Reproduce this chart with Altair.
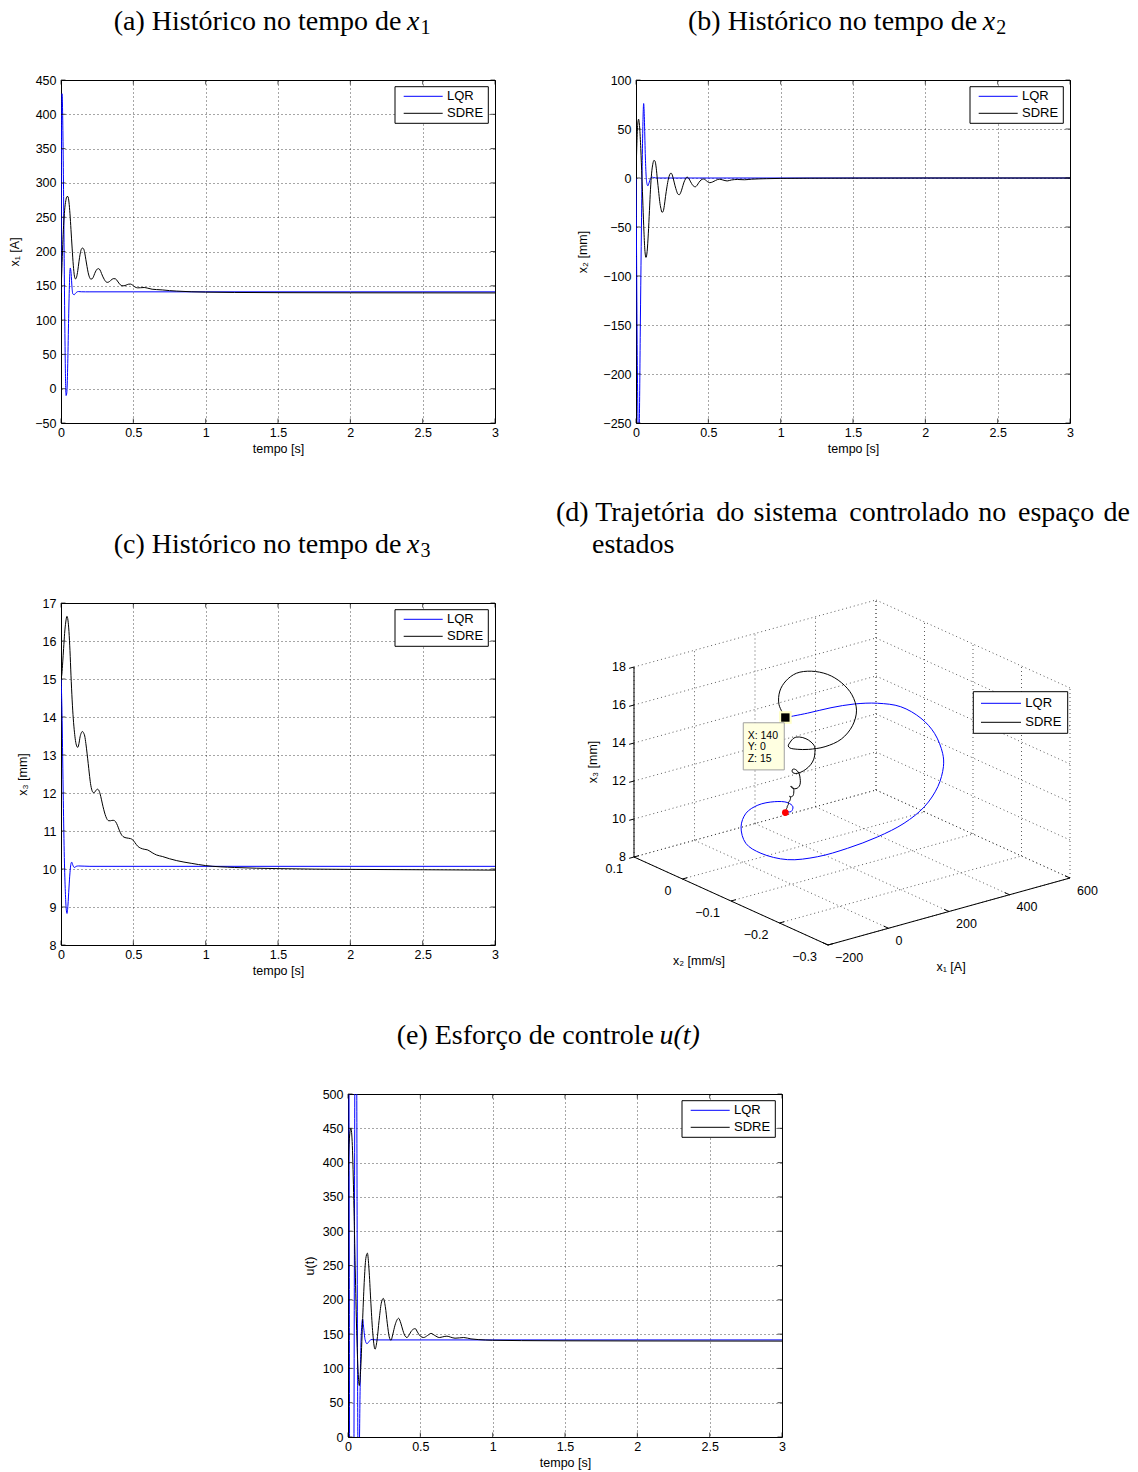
import altair as alt
import pandas as pd

SANS = "Liberation Sans"
SERIF = "Liberation Serif"
BLUE = "#0000ff"
BLACK = "#000000"

# ---------------- data ----------------
time_ticks = [0, 0.5, 1, 1.5, 2, 2.5, 3]
x1_ticks = list(range(-50, 451, 50))
x2_ticks = list(range(-250, 101, 50))
x3_ticks = list(range(8, 18))
u_ticks = list(range(0, 501, 50))

# LQR
lqr_x1_t = [0, 0.002, 0.004, 0.007, 0.010, 0.014, 0.018, 0.022, 0.026, 0.030,
            0.035, 0.040, 0.046, 0.052, 0.058, 0.064, 0.070, 0.076, 0.082, 0.092,
            0.100, 0.110, 0.120, 0.140, 0.170, 0.200, 0.500, 1.0, 2.0, 3.0]
lqr_x1 = [140, 280, 390, 430, 415, 360, 280, 190, 100, 30,
          -10, -6, 30, 95, 150, 176, 168, 148, 138, 137,
          139, 141, 141.6, 141.3, 141.2, 141.2, 141.2, 141.2, 141.2, 141.2]

lqr_x2_t = [0, 0.004, 0.008, 0.013, 0.018, 0.023, 0.030, 0.036, 0.042, 0.047,
            0.053, 0.058, 0.064, 0.070, 0.076, 0.082, 0.090, 0.100, 0.108, 0.120,
            0.150, 3.0]
lqr_x2 = [0, -80, -170, -240, -285, -250, -150, -70, 5, 50,
          76, 60, 25, 2, -6, -8, -5, -0.5, 1, 0.5,
          0, 0]

lqr_x3_t = [0, 0.004, 0.008, 0.0115, 0.016, 0.023, 0.030, 0.036, 0.0415, 0.048,
            0.055, 0.062, 0.068, 0.074, 0.082, 0.092, 0.105, 0.120, 0.200, 3.0]
lqr_x3 = [15, 14.6, 13.9, 12.95, 11.8, 10.3, 9.4, 8.95, 8.83, 9.05,
          9.5, 9.9, 10.12, 10.18, 10.1, 10.04, 10.07, 10.08, 10.07, 10.07]

lqr_u_t = [0, 0.005, 0.009, 0.013, 0.025, 0.038, 0.044, 0.050, 0.056, 0.062,
           0.066, 0.071, 0.077, 0.083, 0.090, 0.101, 0.108, 0.118, 0.131, 0.145,
           0.159, 0.200, 3.0]
lqr_u = [1400, 800, 250, -300, -800, -300, 250, 700, 800, 400,
         100, -60, -40, 60, 140, 172, 160, 142, 136, 139,
         142, 141.5, 141.5]

# SDRE (common time grid for x1, x2, x3)
sdre_t = [0, 0.006, 0.012, 0.018, 0.025, 0.033, 0.041, 0.048, 0.055, 0.062,
          0.069, 0.077, 0.085, 0.093, 0.100, 0.108, 0.116, 0.124, 0.132, 0.140,
          0.148, 0.156, 0.164, 0.172, 0.180, 0.188, 0.196, 0.204, 0.214, 0.224,
          0.233, 0.242, 0.251, 0.260, 0.270, 0.280, 0.290, 0.300, 0.310, 0.320,
          0.330, 0.342, 0.353, 0.365, 0.378, 0.390, 0.400, 0.410, 0.422, 0.435,
          0.450, 0.466, 0.480, 0.495, 0.510, 0.530, 0.550, 0.575, 0.600, 0.630,
          0.660, 0.700, 0.750, 0.800, 0.900, 1.000, 1.200, 1.500, 2.000, 2.500, 3.000]
sdre_x1 = [140, 175, 210, 238, 260, 274, 280, 280, 272, 255,
           232, 205, 180, 164, 160, 163, 172, 185, 196, 203,
           205, 204, 198, 188, 178, 169, 163, 160, 160, 163,
           168, 172, 174.5, 175, 173, 168, 163, 159, 156, 155,
           155.5, 157.5, 159.5, 160.5, 160, 157, 154, 151.5, 150.2, 150,
           151, 152.3, 152.5, 151, 148.5, 147, 147.2, 147.5, 146.5, 145,
           144.5, 144, 143, 142.3, 141.3, 140.8, 140.3, 140, 139.8, 139.7, 139.6]
sdre_x2 = [0, 35, 55, 60, 52, 30, 0, -28, -55, -75,
           -81, -75, -57, -33, -12, 5, 14, 18, 17, 10,
           -2, -13, -24, -31, -35, -34, -28, -19, -9, -1,
           3.5, 5, 3, -2, -8, -13, -16.5, -17, -14.5, -10,
           -5, -1, 1, -0.5, -4, -7, -8.5, -9, -7.5, -4.5,
           -2, -1, -2, -3.8, -4.8, -4, -2.5, -1.2, -2, -3,
           -2, -1.5, -1.8, -1.2, -0.7, -0.4, -0.2, -0.1, 0, 0, 0]
sdre_x3 = [15, 15.13, 15.45, 15.8, 16.2, 16.5, 16.65, 16.55, 16.25, 15.75,
           15.1, 14.45, 13.95, 13.6, 13.38, 13.24, 13.2, 13.3, 13.48, 13.58,
           13.62, 13.58, 13.5, 13.3, 13.05, 12.78, 12.5, 12.25, 12.07, 12.01,
           12.02, 12.07, 12.1, 12.08, 11.98, 11.82, 11.65, 11.5, 11.38, 11.3,
           11.27, 11.27, 11.28, 11.28, 11.24, 11.15, 11.05, 10.96, 10.88, 10.84,
           10.82, 10.81, 10.8, 10.77, 10.7, 10.6, 10.55, 10.52, 10.5, 10.43,
           10.37, 10.33, 10.27, 10.22, 10.15, 10.09, 10.04, 10.01, 9.99, 9.98, 9.97]

sdre_u_t = [0, 0.008, 0.020, 0.030, 0.040, 0.050, 0.060, 0.070, 0.078, 0.088,
            0.100, 0.112, 0.123, 0.134, 0.145, 0.157, 0.170, 0.187, 0.200, 0.215,
            0.230, 0.244, 0.258, 0.272, 0.285, 0.297, 0.310, 0.325, 0.350, 0.365,
            0.380, 0.395, 0.408, 0.420, 0.440, 0.465, 0.480, 0.500, 0.523, 0.550,
            0.574, 0.600, 0.631, 0.655, 0.684, 0.710, 0.740, 0.770, 0.800, 0.850,
            0.900, 1.000, 1.200, 1.500, 2.000, 3.000]
sdre_u = [380, 430, 450, 425, 345, 245, 155, 95, 75, 100,
          165, 225, 260, 268, 245, 200, 155, 128, 140, 170,
          195, 202, 190, 165, 146, 141, 150, 163, 173, 166,
          155, 147, 145, 148, 155, 158, 153, 147, 145, 148,
          151, 148, 145, 146, 147, 145.5, 144, 144.5, 145, 143,
          142, 141, 140.5, 140.2, 140, 139.8]

# LQR trajectory in the state space (x1 [A], x2, x3 [mm])
lqr3d_x1 = [140, 205, 278, 347, 398, 430, 428, 420, 405, 390,
            370, 340, 300, 250, 190, 110, 30, 0, -10, 0,
            50, 110, 150, 175, 165, 145, 140]
lqr3d_x2 = [0, -0.005, -0.008, -0.013, -0.029, -0.057, -0.1, -0.133, -0.159, -0.17,
            -0.171, -0.162, -0.145, -0.122, -0.097, -0.085, -0.073, -0.037, -0.012, 0.004,
            0.025, 0.038, 0.029, 0.017, 0, -0.0085, 0]
lqr3d_x3 = [15, 15, 15, 14.95, 14.95, 14.95, 14.85, 14.47, 13.79, 13.28,
            12.33, 11.3, 10.41, 9.65, 9.02, 8.79, 8.85, 8.9, 9.18, 9.82,
            10.07, 10.08, 10.19, 10.17, 10.19, 10.12, 10.07]
initial_state = [140, 0, 15]
equilibrium = [140, 0, 10]

x1_ticks3 = [-200, 0, 200, 400, 600]
x2_ticks3 = [-0.3, -0.2, -0.1, 0, 0.1]
x3_ticks3 = [8, 10, 12, 14, 16, 18]

# ---------------- helpers ----------------
one = pd.DataFrame({"k": [0]})


def vtext(text, x, y, size=28, align="left", style="normal", font=SERIF):
    return alt.Chart(one).mark_text(
        text=text, font=font, fontSize=size, align=align, baseline="alphabetic",
        fontStyle=style, color="black"
    ).encode(x=alt.value(x), y=alt.value(y))


def anchor(x, y0, y1):
    # invisible thin strip that fixes the layout bounds of a row
    return alt.Chart(one).mark_rect(opacity=0).encode(
        x=alt.value(x), x2=alt.value(x + 1), y=alt.value(y0), y2=alt.value(y1))


def legend(x0, y0, w, h, rows_y, lx0, lx1, tx):
    layers = [alt.Chart(one).mark_rect(fill="white", stroke="black", strokeWidth=1).encode(
        x=alt.value(x0), x2=alt.value(x0 + w), y=alt.value(y0), y2=alt.value(y0 + h))]
    for name, col, ry in zip(["LQR", "SDRE"], [BLUE, BLACK], rows_y):
        layers.append(alt.Chart(one).mark_rule(color=col, strokeWidth=1).encode(
            x=alt.value(lx0), x2=alt.value(lx1), y=alt.value(ry)))
        layers.append(alt.Chart(one).mark_text(
            text=name, font=SANS, fontSize=13, align="left", baseline="middle", color="black"
        ).encode(x=alt.value(tx), y=alt.value(ry)))
    return layers


TICK = 4.5


def time_panel(lt, lv, st, sv, ydom, yticks, ytitle, tpad, titles, h=343, extra=None):
    xs = alt.Scale(domain=[0, 3], nice=False, zero=False)
    ys = alt.Scale(domain=ydom, nice=False, zero=False)
    xenc = alt.X("t:Q", scale=xs,
                 axis=alt.Axis(values=time_ticks, format="~g", title="tempo [s]",
                               labelPadding=3, titlePadding=4))
    yenc = alt.Y("v:Q", scale=ys,
                 axis=alt.Axis(values=yticks, title=ytitle, titlePadding=tpad, labelPadding=5))
    l1 = alt.Chart(pd.DataFrame({"t": lt, "v": lv})).mark_line(
        color=BLUE, strokeWidth=1, interpolate="monotone", clip=True).encode(x=xenc, y=yenc)
    l2 = alt.Chart(pd.DataFrame({"t": st, "v": sv})).mark_line(
        color=BLACK, strokeWidth=1, interpolate="monotone", clip=True).encode(x=xenc, y=yenc)
    # inward tick marks on all four sides (box style)
    xt = pd.DataFrame({"t": time_ticks})
    yt = pd.DataFrame({"v": yticks})
    tk = []
    for yv, off in [(ydom[0], -TICK / 2), (ydom[1], TICK / 2)]:
        tk.append(alt.Chart(xt).transform_calculate(v=str(yv)).mark_tick(
            orient="vertical", size=TICK, thickness=1, color="black", yOffset=off
        ).encode(x=xenc, y=yenc))
    for xv, off in [(0, TICK / 2), (3, -TICK / 2)]:
        tk.append(alt.Chart(yt).transform_calculate(t=str(xv)).mark_tick(
            orient="horizontal", size=TICK, thickness=1, color="black", xOffset=off
        ).encode(x=xenc, y=yenc))
    layers = [l1, l2] + tk + legend(334, 6.7, 93.3, 36.6, [16.3, 33.3], 342.7, 381.7, 386) + titles
    if extra:
        layers += extra
    return alt.layer(*layers).properties(width=434, height=h,
                                         view={"stroke": "black", "strokeWidth": 1})


# ---------------- panels a, b, c, e ----------------
pa = time_panel(lqr_x1_t, lqr_x1, sdre_t, sdre_x1, [-50, 450], x1_ticks, "x₁ [A]", 13,
                [vtext("(a) Histórico no tempo de", 340.5, -49.7, align="right"),
                 vtext("x", 346, -49.7, style="italic"),
                 vtext("1", 359.5, -46.5, size=20)],
                extra=[anchor(-60, -79, 403)])
pb = time_panel(lqr_x2_t, lqr_x2, sdre_t, sdre_x2, [-250, 100], x2_ticks, "x₂ [mm]", 13,
                [vtext("(b) Histórico no tempo de", 341.3, -49.7, align="right"),
                 vtext("x", 346.8, -49.7, style="italic"),
                 vtext("2", 360.3, -46.5, size=20)])
pc = time_panel(lqr_x3_t, lqr_x3, sdre_t, sdre_x3, [8, 17], x3_ticks, "x₃ [mm]", 13,
                [vtext("(c) Histórico no tempo de", 340.5, -49.7, align="right"),
                 vtext("x", 346, -49.7, style="italic"),
                 vtext("3", 359.5, -46.5, size=20)], h=342,
                extra=[anchor(-60, -118, 400)])
pe = time_panel(lqr_u_t, lqr_u, sdre_u_t, sdre_u, [0, 500], u_ticks, "u(t)", 6,
                [vtext("(e) Esforço de controle", 306, -49.7, align="right"),
                 vtext("u(t)", 311.5, -49.7, style="italic")])

# ---------------- panel d (3-D view, orthographic projection) ----------------
DW, DH = 560, 342
O = (267, 342)          # screen position of (x1min, x2min, x3min)
E1 = (242, -67)         # screen direction of the x1 axis (full range)
E2 = (-194, -88)        # screen direction of the x2 axis (full range)
E3 = (0, -190)          # screen direction of the x3 axis (full range)
L1, H1 = x1_ticks3[0], x1_ticks3[-1]
L2, H2 = x2_ticks3[0], x2_ticks3[-1]
L3, H3 = x3_ticks3[0], x3_ticks3[-1]


def proj(f1, f2, f3):
    n1 = f"((datum.{f1}-({L1}))/({H1}-({L1})))"
    n2 = f"((datum.{f2}-({L2}))/({H2}-({L2})))"
    n3 = f"((datum.{f3}-({L3}))/({H3}-({L3})))"
    ex = f"{O[0]}+({E1[0]})*{n1}+({E2[0]})*{n2}+({E3[0]})*{n3}"
    ey = f"{O[1]}+({E1[1]})*{n1}+({E2[1]})*{n2}+({E3[1]})*{n3}"
    return ex, ey


XS = alt.Scale(domain=[0, DW], nice=False, zero=False)
YS = alt.Scale(domain=[0, DH], nice=False, zero=False, reverse=True)
PX = alt.X("px:Q", scale=XS, axis=None)
PY = alt.Y("py:Q", scale=YS, axis=None)


def seg_chart(rows, **mk):
    df = pd.DataFrame(rows, columns=["a1", "a2", "a3", "b1", "b2", "b3"])
    ax, ay = proj("a1", "a2", "a3")
    bx, by = proj("b1", "b2", "b3")
    return alt.Chart(df).transform_calculate(px=ax, py=ay, qx=bx, qy=by).mark_rule(**mk).encode(
        x=PX, y=PY, x2="qx:Q", y2="qy:Q")


grid_rows = []
for v in x1_ticks3:
    grid_rows.append([v, L2, L3, v, H2, L3])
    grid_rows.append([v, H2, L3, v, H2, H3])
for v in x2_ticks3:
    grid_rows.append([L1, v, L3, H1, v, L3])
    grid_rows.append([H1, v, L3, H1, v, H3])
for v in x3_ticks3:
    grid_rows.append([L1, H2, v, H1, H2, v])
    grid_rows.append([H1, L2, v, H1, H2, v])
axis_rows = [[L1, L2, L3, H1, L2, L3], [L1, L2, L3, L1, H2, L3], [L1, H2, L3, L1, H2, H3]]
tick_rows = ([[v, L2, L3, v, L2 + 0.01, L3] for v in x1_ticks3] +
             [[L1, v, L3, L1 + 16, v, L3] for v in x2_ticks3] +
             [[L1, H2, v, L1 - 16, H2, v] for v in x3_ticks3])

grid3 = seg_chart(grid_rows, color="#333333", strokeDash=[1, 3], strokeWidth=1, opacity=0.8)
axes3 = seg_chart(axis_rows, color="black", strokeWidth=1)
ticks3 = seg_chart(tick_rows, color="black", strokeWidth=1)


def label_chart(rows, **mk):
    df = pd.DataFrame(rows, columns=["a1", "a2", "a3", "lab"])
    ax, ay = proj("a1", "a2", "a3")
    return alt.Chart(df).transform_calculate(px=ax, py=ay).mark_text(
        font=SANS, fontSize=12.5, baseline="middle", color="black", **mk).encode(
        x=PX, y=PY, text=alt.Text("lab:Q", format="~g"))


lab1 = label_chart([[v, L2, L3, v] for v in x1_ticks3], align="left", dx=7, dy=12.5)
lab2 = label_chart([[L1, v, L3, v] for v in x2_ticks3], align="right", dx=-11, dy=11.5)
lab3 = label_chart([[L1, H2, v, v] for v in x3_ticks3], align="right", dx=-8, dy=0)


def title3(text, p, **mk):
    df = pd.DataFrame([p], columns=["a1", "a2", "a3"])
    ax, ay = proj("a1", "a2", "a3")
    return alt.Chart(df).transform_calculate(px=ax, py=ay).mark_text(
        text=text, font=SANS, fontSize=12.5, baseline="middle", align="center",
        color="black", **mk).encode(x=PX, y=PY)


t1 = title3("x₁ [A]", [(L1 + H1) / 2, L2, L3], dx=2, dy=55)
t2 = title3("x₂ [mm/s]", [L1, (L2 + H2) / 2, L3], dx=-32, dy=60)
t3 = title3("x₃ [mm]", [L1, H2, (L3 + H3) / 2], angle=270, xOffset=-41)

lqr_df = pd.DataFrame({"i": range(len(lqr3d_x1)), "x1": lqr3d_x1, "x2": lqr3d_x2, "x3": lqr3d_x3})
cx, cy = proj("x1", "x2", "x3")
lqr3 = alt.Chart(lqr_df).transform_calculate(px=cx, py=cy).mark_line(
    color=BLUE, strokeWidth=1, interpolate="catmull-rom").encode(x=PX, y=PY, order="i:Q")

sdre_df = pd.DataFrame({"t": sdre_t, "x1": sdre_x1, "x2v": sdre_x2, "x3": sdre_x3})
sdre3 = alt.Chart(sdre_df).transform_calculate(x2="datum.x2v/1000").transform_calculate(
    px=cx, py=cy).mark_line(color=BLACK, strokeWidth=1, interpolate="catmull-rom").encode(
    x=PX, y=PY, order="t:Q")

pt_init = pd.DataFrame([initial_state], columns=["x1", "x2", "x3"])
pt_eq = pd.DataFrame([equilibrium], columns=["x1", "x2", "x3"])
red = alt.Chart(pt_eq).transform_calculate(px=cx, py=cy).mark_point(
    filled=True, color="red", size=45, opacity=1).encode(x=PX, y=PY)
halo = alt.Chart(pt_init).transform_calculate(px=cx, py=cy).mark_square(
    color="#ffffc8", size=160, opacity=1).encode(x=PX, y=PY)
sq = alt.Chart(pt_init).transform_calculate(px=cx, py=cy).mark_square(
    color="black", size=70, opacity=1).encode(x=PX, y=PY)
tipbox = alt.Chart(pt_init).transform_calculate(px=cx, py=cy).mark_point(
    shape="M-1,-1.15H1V1.15H-1Z", size=1681, filled=True, fill="#ffffe1",
    stroke="#a0a0a0", strokeWidth=1, opacity=1, fillOpacity=1,
    xOffset=-21.6, yOffset=28.8).encode(x=PX, y=PY)
tiptext = alt.Chart(pt_init).transform_calculate(
    px=cx, py=cy, l1="'X: ' + datum.x1", l2="'Y: ' + datum.x2", l3="'Z: ' + datum.x3")
tips = [tiptext.mark_text(font=SANS, fontSize=10.5, align="left", baseline="middle",
                          color="black", dx=-37.7, dy=dy).encode(x=PX, y=PY, text=f"{f}:N")
        for f, dy in [("l1", 18), ("l2", 29.5), ("l3", 41.5)]]

d_words = ["Trajetória", "do", "sistema", "controlado", "no", "espaço", "de"]
gaps = [" \u200a\u200a", " \u200a", " \u200a\u200a", " \u200a", " \u200a\u200a", " \u200a"]
line1 = "(d) " + d_words[0] + "".join(g + w for g, w in zip(gaps, d_words[1:]))
d_titles = [vtext(line1, -5, -82.2), vtext("estados", 31, -49.7)]

pd_ = alt.layer(
    grid3, axes3, ticks3, lab1, lab2, lab3, t1, t2, t3, lqr3, sdre3, red, halo, sq, tipbox,
    *tips,
    *legend(412.3, 88.7, 94.4, 41.6, [100.3, 119.3], 420, 460, 464.3),
    *d_titles
).properties(width=DW, height=DH, view={"stroke": "transparent"})

spacer = alt.layer(anchor(-60, -89, 0)).properties(
    width=287, height=343, view={"stroke": "transparent"})

row1 = alt.hconcat(pa, pb, spacing=141, bounds="flush")
row2 = alt.hconcat(pc, pd_, spacing=66, bounds="flush")
row3 = alt.hconcat(spacer, pe, spacing=0, bounds="flush")

chart = alt.vconcat(row1, row2, row3, spacing=0, bounds="full").properties(
    padding={"left": 0, "top": 0, "right": 0, "bottom": 0}, background="white"
).configure_axis(
    labelFont=SANS, labelFontSize=12.5, labelColor="black",
    titleFont=SANS, titleFontSize=12.5, titleFontWeight="normal", titleColor="black",
    grid=True, gridColor="black", gridDash=[1, 3], gridOpacity=0.7, gridWidth=1,
    domain=False, ticks=False, labelFlush=False, labelOverlap=False
)

chart.save("out.html", embed_options={"renderer": "svg", "actions": False})
